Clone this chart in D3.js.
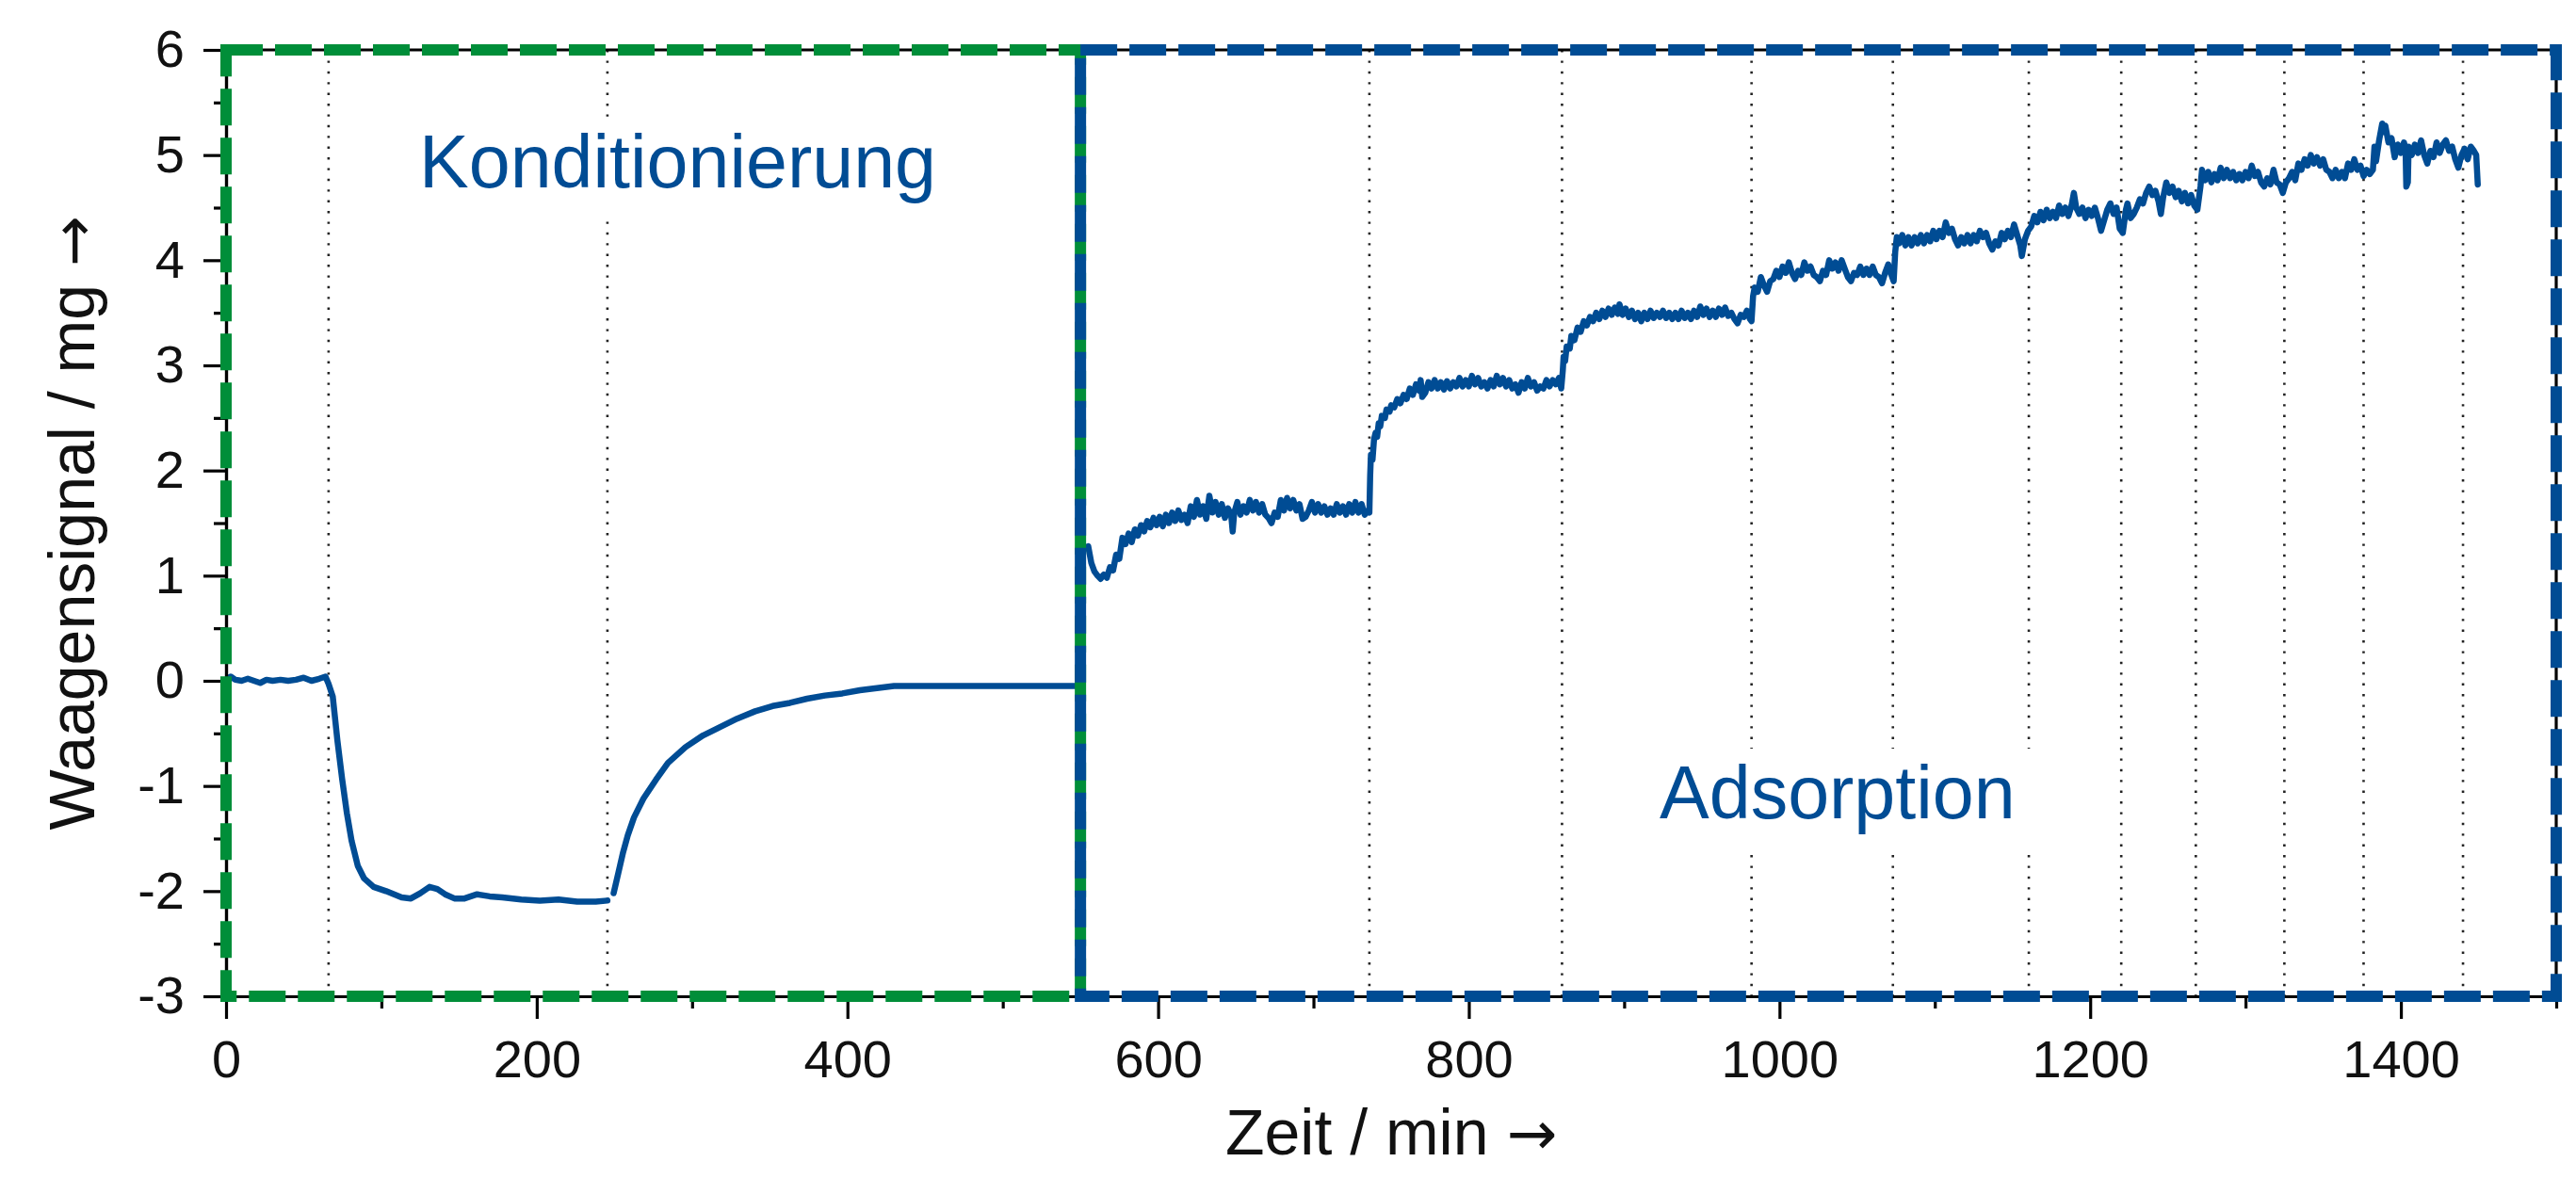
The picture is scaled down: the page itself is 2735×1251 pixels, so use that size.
<!DOCTYPE html>
<html><head><meta charset="utf-8">
<script src="https://cdn.jsdelivr.net/npm/d3@7"></script>
<style>html,body{margin:0;padding:0;background:#fff;} svg{display:block;}</style>
</head><body>
<svg id="chart" width="2735" height="1251"></svg>
<script>
// ---------- data ----------
const xMajorTicks = [0, 200, 400, 600, 800, 1000, 1200, 1400];
const xMinorTicks = [100, 300, 500, 700, 900, 1100, 1300, 1500];
const yMajorTicks = [-3, -2, -1, 0, 1, 2, 3, 4, 5, 6];
const yMinorTicks = [-2.5, -1.5, -0.5, 0.5, 1.5, 2.5, 3.5, 4.5, 5.5];
const stepTimes = [66, 245.5, 736, 860, 982, 1073, 1160.5, 1220, 1268, 1325, 1376, 1440];
const phaseNames = ["Konditionierung", "Adsorption"];
const phaseBounds = [[0, 550], [550, 1500]];
const xTitle = "Zeit / min ";
const yTitle = "Waagensignal / mg ";
const arrow = "\u2192";

// time [min], signal [mg]
const conditioning = [
 [0,0.01],[3,0.04],[6,0.01],[10,0.0],[14,0.02],[18,0.0],[22,-0.02],[26,0.01],[30,0.0],[35,0.01],
 [40,0.0],[45,0.01],[50,0.03],[55,0.0],[60,0.02],[64,0.04],[66,-0.03],
 [68.7,-0.15],[71.7,-0.57],[74.7,-0.93],[77.8,-1.26],[80.8,-1.52],[84.8,-1.76],[88.9,-1.88],
 [95,-1.96],[103,-2.0],[113,-2.06],[119,-2.07],[125,-2.02],[131,-1.96],[136,-1.98],[141,-2.03],
 [147,-2.07],[153.5,-2.07],[161.6,-2.03],[169.7,-2.05],[177.8,-2.06],[190,-2.08],[202,-2.09],
 [214,-2.08],[226,-2.1],[238,-2.1],[245.5,-2.09],[247.5,null],
 [249.5,-2.02],[252.5,-1.83],[255.6,-1.63],[258.6,-1.47],[262.6,-1.3],[268.7,-1.12],[276.8,-0.94],
 [284.5,-0.78],[295.8,-0.63],[307,-0.52],[318,-0.44],[329,-0.36],[340.6,-0.29],[351.8,-0.24],
 [363,-0.21],[374,-0.17],[385.5,-0.14],[396.7,-0.12],[408,-0.09],[419,-0.07],[430,-0.05],
 [452.7,-0.05],[475,-0.05],[497.6,-0.05],[520,-0.05],[550,-0.05]
];
const adsorption = [
 [551,1.25],[555,1.28],[557,1.12],[559,1.04],[561,1.0],[563,0.97],[565,1.01],[567,0.98],[569,1.08],
 [571,1.05],[573,1.2],[575,1.16],[577,1.36],[579,1.3],[581,1.4],[583,1.32],[585,1.44],[587,1.38],
 [589,1.48],[591,1.42],[593,1.52],[595,1.46],[597,1.55],[599,1.48],[601,1.56],[603,1.47],[605,1.58],
 [607,1.5],[609,1.6],[611,1.52],[613,1.62],[615,1.53],[617,1.58],[619,1.5],[621,1.66],[623,1.56],
 [625,1.72],[627,1.58],[629,1.66],[631,1.54],[633,1.76],[635,1.6],[637,1.7],[639,1.58],[641,1.68],
 [643,1.55],[645,1.64],[647,1.58],[648,1.42],[649,1.6],[651,1.7],[653,1.58],[655,1.66],[657,1.6],
 [659,1.72],[661,1.62],[663,1.7],[665,1.6],[667,1.68],[669,1.58],[671,1.55],[673,1.5],[675,1.6],
 [677,1.56],[679,1.72],[681,1.62],[683,1.74],[685,1.64],[687,1.72],[689,1.62],[691,1.68],[693,1.54],
 [695,1.56],[697,1.62],[699,1.7],[701,1.6],[703,1.68],[705,1.6],[707,1.66],[709,1.58],[711,1.64],
 [713,1.58],[715,1.68],[717,1.6],[719,1.66],[721,1.58],[723,1.68],[725,1.6],[727,1.7],[729,1.6],
 [731,1.68],[733,1.58],[735,1.62],
 [736,1.6],[736.5,1.95],[737,2.15],[738,2.1],[739,2.3],[740,2.36],[741,2.32],[742,2.45],[743,2.42],
 [744,2.52],[746,2.5],[747,2.58],[749,2.56],[750,2.62],[752,2.6],[754,2.68],[756,2.64],[758,2.72],
 [760,2.68],[762,2.78],[764,2.72],[766,2.82],[768,2.76],[769,2.86],[770,2.7],[772,2.74],[774,2.84],
 [776,2.78],[778,2.86],[780,2.78],[782,2.84],[784,2.77],[786,2.85],[788,2.78],[790,2.84],[792,2.8],
 [794,2.88],[796,2.8],[798,2.86],[800,2.8],[802,2.9],[804,2.82],[806,2.88],[808,2.8],[810,2.84],
 [812,2.78],[814,2.86],[816,2.8],[818,2.9],[820,2.82],[822,2.88],[824,2.8],[826,2.86],[828,2.78],
 [830,2.82],[832,2.74],[834,2.84],[836,2.78],[838,2.88],[840,2.8],[842,2.84],[844,2.76],[846,2.8],
 [848,2.78],[850,2.86],[852,2.8],[854,2.86],[856,2.82],[858,2.88],[859.5,2.78],
 [860.5,2.95],[861,3.08],[862,3.04],[863,3.18],[865,3.16],[866,3.28],[868,3.24],[870,3.36],[872,3.32],
 [874,3.42],[876,3.38],[878,3.46],[880,3.42],[882,3.5],[884,3.44],[886,3.52],[888,3.46],[890,3.54],
 [892,3.48],[894,3.55],[896,3.49],[897,3.58],[899,3.48],[901,3.54],[903,3.46],[905,3.52],[907,3.44],
 [909,3.5],[911,3.42],[913,3.5],[915,3.44],[917,3.52],[919,3.45],[921,3.5],[923,3.46],[925,3.52],
 [927,3.45],[929,3.5],[931,3.44],[933,3.5],[935,3.44],[937,3.52],[939,3.45],[941,3.5],[943,3.44],
 [945,3.52],[947,3.46],[949,3.56],[951,3.48],[953,3.54],[955,3.46],[957,3.52],[959,3.46],[961,3.54],
 [963,3.48],[965,3.55],[967,3.47],[969,3.5],[971,3.44],[973,3.4],[975,3.48],[977,3.46],[979,3.52],
 [981,3.44],
 [982,3.42],[983,3.66],[984,3.74],[986,3.7],[988,3.84],[990,3.76],[992,3.7],[994,3.8],[996,3.82],
 [998,3.9],[1000,3.84],[1002,3.94],[1004,3.88],[1006,3.98],[1008,3.88],[1010,3.82],[1012,3.9],
 [1014,3.86],[1016,3.98],[1018,3.9],[1020,3.94],[1022,3.86],[1024,3.84],[1026,3.8],[1028,3.9],
 [1030,3.86],[1032,4.0],[1034,3.92],[1036,3.98],[1038,3.9],[1040,4.0],[1042,3.92],[1044,3.84],
 [1046,3.8],[1048,3.88],[1050,3.86],[1052,3.94],[1054,3.86],[1056,3.92],[1058,3.86],[1060,3.94],
 [1062,3.86],[1064,3.84],[1066,3.78],[1068,3.88],[1070,3.96],[1072,3.86],[1073.5,3.8],
 [1074.5,4.08],[1075.5,4.22],[1077,4.16],[1079,4.24],[1081,4.14],[1083,4.22],[1085,4.14],[1087,4.22],
 [1089,4.16],[1091,4.24],[1093,4.16],[1095,4.24],[1097,4.18],[1099,4.28],[1101,4.2],[1103,4.28],
 [1105,4.22],[1107,4.36],[1109,4.26],[1111,4.3],[1113,4.2],[1115,4.14],[1117,4.22],[1119,4.16],
 [1121,4.24],[1123,4.16],[1125,4.24],[1127,4.18],[1129,4.28],[1131,4.22],[1133,4.26],[1135,4.16],
 [1137,4.1],[1139,4.18],[1141,4.14],[1143,4.26],[1145,4.2],[1147,4.28],[1149,4.22],[1151,4.34],
 [1153,4.24],[1155,4.14],[1156,4.04],[1158,4.2],[1160,4.28],
 [1162,4.32],[1164,4.42],[1166,4.36],[1168,4.46],[1170,4.38],[1172,4.48],[1174,4.4],[1176,4.46],
 [1178,4.4],[1180,4.52],[1182,4.44],[1184,4.5],[1186,4.42],[1188,4.52],[1189.5,4.64],[1191,4.5],
 [1193,4.44],[1195,4.5],[1197,4.4],[1199,4.48],[1201,4.42],[1203,4.5],[1205,4.4],[1207,4.28],
 [1209,4.38],[1211,4.48],[1213,4.54],[1215,4.44],[1217,4.5],[1219,4.3],[1221,4.26],[1223,4.48],
 [1224,4.54],[1226,4.4],[1228,4.44],[1230,4.5],[1232,4.58],[1234,4.54],[1236,4.64],[1238,4.7],
 [1240,4.62],[1242,4.66],[1244,4.56],[1245.5,4.44],[1247,4.6],[1249,4.74],[1251,4.64],[1253,4.7],
 [1255,4.6],[1257,4.66],[1259,4.56],[1261,4.64],[1263,4.54],[1265,4.62],[1267,4.52],[1269,4.48],
 [1271,4.7],[1272,4.86],[1274,4.76],[1276,4.84],[1278,4.74],[1280,4.82],[1282,4.76],[1284,4.88],
 [1286,4.78],[1288,4.86],[1290,4.78],[1292,4.84],[1294,4.76],[1296,4.82],[1298,4.76],[1300,4.84],
 [1302,4.78],[1304,4.9],[1306,4.8],[1308,4.84],[1310,4.74],[1312,4.7],[1314,4.78],[1316,4.72],
 [1318,4.86],[1320,4.74],[1322,4.72],[1324,4.64],[1326,4.74],[1328,4.78],[1330,4.84],[1332,4.76],
 [1334,4.92],[1336,4.86],[1338,4.96],[1340,4.9],[1342,5.0],[1344,4.92],[1346,4.98],[1348,4.9],
 [1350,4.96],[1352,4.86],[1354,4.84],[1356,4.78],[1358,4.86],[1360,4.78],[1362,4.84],[1364,4.78],
 [1366,4.92],[1368,4.86],[1370,4.96],[1372,4.86],[1374,4.9],[1376,4.8],[1378,4.86],[1380,4.82],
 [1382,4.86],[1383,5.08],[1384,4.94],[1386,5.14],[1388,5.3],[1389,5.22],[1390,5.28],[1392,5.12],
 [1394,5.16],[1396,4.98],[1398,5.1],[1400,5.02],[1402,5.12],[1403,5.06],[1403.5,4.7],[1404.5,4.74],
 [1405,5.08],[1407,5.0],[1409,5.1],[1411,5.02],[1413,5.14],[1415,5.0],[1417,4.92],[1419,5.04],
 [1421,4.98],[1423,5.12],[1425,5.02],[1427,5.1],[1429,5.14],[1431,5.04],[1433,5.08],[1435,4.96],
 [1437,4.88],[1439,5.0],[1441,5.06],[1443,4.96],[1445,5.08],[1447,5.04],[1448.5,5.0],[1449.5,4.72]
];

// ---------- layout ----------
const M = {left: 240, top: 53, right: 2714, bottom: 1058};
const BLUE = "#004c94", GREEN = "#008e39";
const FONT = "'Liberation Sans', Arial, Helvetica, sans-serif";
const ARROW_FONT = "'DejaVu Sans', sans-serif";
const fmt = d => String(d);

const svg = d3.select("#chart");
const x = d3.scaleLinear().domain([0, 1500]).range([M.left, M.right]);
const y = d3.scaleLinear().domain([-3, 6]).range([M.bottom, M.top]);

// dotted step markers
svg.append("g").selectAll("line").data(stepTimes).join("line")
  .attr("x1", d => x(d)).attr("x2", d => x(d))
  .attr("y1", y(6)).attr("y2", y(-3))
  .attr("stroke", "#222").attr("stroke-width", 2.6)
  .attr("stroke-dasharray", "2.4,9");

// phase labels with white backgrounds
const labelPos = [[445, 199], [1762, 869]];
const lg = svg.append("g");
phaseNames.forEach((name, i) => {
  const g = lg.append("g");
  const bg = g.append("rect").attr("fill", "#fff");
  const t = g.append("text").text(name)
    .attr("x", labelPos[i][0]).attr("y", labelPos[i][1])
    .attr("font-family", FONT).attr("font-size", 79).attr("fill", BLUE);
  const b = t.node().getBBox();
  bg.attr("x", b.x - 20).attr("y", b.y - 2).attr("width", b.width + 40).attr("height", b.height + 18);
});

// data line
const line = d3.line().defined(d => d[1] !== null).x(d => x(d[0])).y(d => y(d[1]));
svg.append("path").datum(conditioning.concat(adsorption))
  .attr("d", line).attr("fill", "none").attr("stroke", BLUE)
  .attr("stroke-width", 6.5).attr("stroke-linejoin", "round").attr("stroke-linecap", "round");

// axes
function styleAxis(g) {
  g.selectAll("path.domain").attr("stroke", "#000").attr("stroke-width", 3.2);
  g.selectAll(".tick line").attr("stroke", "#000").attr("stroke-width", 3.2);
  g.selectAll(".tick text").attr("font-family", FONT).attr("font-size", 56).attr("fill", "#111");
}
svg.append("g").attr("transform", `translate(0,${M.bottom})`)
  .call(d3.axisBottom(x).tickValues(xMinorTicks).tickSize(13).tickSizeOuter(0).tickFormat(""))
  .call(styleAxis);
svg.append("g").attr("transform", `translate(0,${M.bottom})`)
  .call(d3.axisBottom(x).tickValues(xMajorTicks).tickSize(24).tickSizeOuter(0).tickPadding(22).tickFormat(fmt))
  .call(styleAxis);
svg.append("g").attr("transform", `translate(${M.left},0)`)
  .call(d3.axisLeft(y).tickValues(yMinorTicks).tickSize(13).tickSizeOuter(0).tickFormat(""))
  .call(styleAxis);
svg.append("g").attr("transform", `translate(${M.left},0)`)
  .call(d3.axisLeft(y).tickValues(yMajorTicks).tickSize(24).tickSizeOuter(0).tickPadding(20).tickFormat(fmt))
  .call(styleAxis);
// top and right frame lines
svg.append("line").attr("x1", M.left).attr("x2", M.right).attr("y1", M.top).attr("y2", M.top)
  .attr("stroke", "#000").attr("stroke-width", 3.2);
svg.append("line").attr("x1", M.right).attr("x2", M.right).attr("y1", M.top).attr("y2", M.bottom)
  .attr("stroke", "#000").attr("stroke-width", 3.2);

// phase boxes
const boxColors = [GREEN, BLUE];
phaseBounds.forEach((p, i) => {
  svg.append("rect")
    .attr("x", x(p[0])).attr("y", y(6))
    .attr("width", x(p[1]) - x(p[0])).attr("height", y(-3) - y(6))
    .attr("fill", "none").attr("stroke", boxColors[i]).attr("stroke-width", 12)
    .attr("stroke-dasharray", "39,13");
});

// axis titles
function title(sel, txt) {
  sel.attr("text-anchor", "middle").attr("font-family", FONT).attr("font-size", 68).attr("fill", "#111");
  sel.append("tspan").text(txt);
  sel.append("tspan").text(arrow).attr("font-family", ARROW_FONT).attr("font-size", 64);
}
svg.append("text")
  .attr("x", (M.left + M.right) / 2).attr("y", 1226)
  .call(title, xTitle);
svg.append("text")
  .attr("transform", `translate(100,${(M.top + M.bottom) / 2}) rotate(-90)`)
  .call(title, yTitle);
</script>
</body></html>
